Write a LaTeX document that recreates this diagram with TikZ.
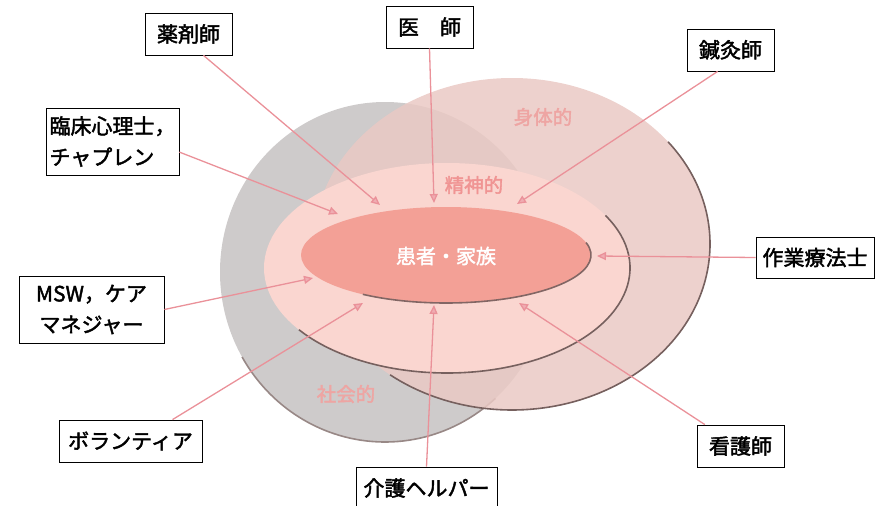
\documentclass[tikz,border=0pt]{standalone}
\usepackage{fontspec}
\newfontfamily\jp{Noto Sans CJK JP}
\newfontfamily\jpb[FakeBold=2]{Noto Sans CJK JP}
\usetikzlibrary{arrows.meta}
\definecolor{grayfill}{RGB}{206,203,203}
\definecolor{pinkbase}{RGB}{234,201,196}
\definecolor{lightpink}{RGB}{250,214,208}
\definecolor{salmon}{RGB}{243,160,150}
\definecolor{edge}{RGB}{118,96,94}
\definecolor{arrowpink}{RGB}{234,145,153}
\definecolor{headpink}{RGB}{240,172,178}
\definecolor{labelpink}{RGB}{238,165,163}
\begin{document}
\begin{tikzpicture}[x=1pt,y=-1pt,
  box/.style={draw=black, line width=0.8pt, fill=white, inner sep=0pt,
    font=\jpb\fontsize{21}{31}\selectfont},
  conn/.style={draw=arrowpink, line width=1.3pt,
    -{Triangle[length=9pt,width=8pt,fill=headpink]}},
  outline/.style={draw=edge, line width=1.6pt},
  inlabel/.style={font=\jpb\fontsize{19.5}{22}\selectfont, text=labelpink, inner sep=0pt}
]
\useasboundingbox (0,0) rectangle (876,506);
% social (gray)
\fill[grayfill] (385,272) ellipse [x radius=165, y radius=170];
\draw[outline, draw=edge!75] ({385+165*cos(48)},{272+170*sin(48)}) arc[start angle=48, end angle=150, x radius=165, y radius=170];
% physical (pink)
\fill[pinkbase, opacity=0.85] (512,244) ellipse [x radius=198, y radius=166];
\draw[outline] ({512+198*cos(-38)},{244+166*sin(-38)}) arc[start angle=-38, end angle=128, x radius=198, y radius=166];
% mental (light pink)
\fill[lightpink] (447,268) ellipse [x radius=183, y radius=105];
\draw[outline] ({447+183*cos(-30)},{268+105*sin(-30)}) arc[start angle=-30, end angle=144, x radius=183, y radius=105];
% patient
\fill[salmon] (446,255) ellipse [x radius=145, y radius=48];
\draw[outline, draw=edge!90!salmon] ({446+145*cos(-15)},{255+48*sin(-15)}) arc[start angle=-15, end angle=125, x radius=145, y radius=48];

\node[inlabel] (shintai) at (543,117) {身体的};
\node[inlabel, text=labelpink!90!red] (seishin) at (474,185) {精神的};
\node[inlabel] (shakai) at (346,394) {社会的};
\node[inlabel, text=white, font=\jpb\fontsize{20}{22}\selectfont] (kanja) at (446,256) {患者・家族};

% boxes
\node[box, minimum width=87pt, minimum height=42pt] (yaku) at (188.5,34) {薬剤師};
\node[box, minimum width=87pt, minimum height=42pt] (ishi) at (429.5,27) {医　師};
\node[box, minimum width=87pt, minimum height=42pt] (shinkyu) at (730.5,50) {鍼灸師};
\node[box, minimum width=133pt, minimum height=67pt, align=left] (rinsho) at (112.5,141.5) {臨床心理士，\\チャプレン};
\node[box, minimum width=118pt, minimum height=41pt] (sagyo) at (815,257.5) {作業療法士};
\node[box, minimum width=145pt, minimum height=67pt, align=center] (msw) at (91.5,309.5) {MSW，ケア\\マネジャー};
\node[box, minimum width=143pt, minimum height=42pt] (vol) at (130.5,441) {ボランティア};
\node[box, minimum width=141pt, minimum height=42pt] (kaigo) at (426.5,488) {介護ヘルパー};
\node[box, minimum width=87pt, minimum height=42pt] (kango) at (740.5,446) {看護師};

% arrow targets
\coordinate (tyaku) at (380,205);
\coordinate (tishi) at (434,203);
\coordinate (tshin) at (517,204);
\coordinate (trin) at (338,214);
\coordinate (tsag) at (597,256);
\coordinate (tmsw) at (313,278);
\coordinate (tvol) at (363,303);
\coordinate (tkai) at (434,305);
\coordinate (tkan) at (519,303);

\draw[conn] (yaku.305) -- (tyaku);
\draw[conn] (ishi.south) -- (tishi);
\draw[conn] (shinkyu.239) -- (tshin);
\draw[conn] (rinsho.351) -- (trin);
\draw[conn] (sagyo.west) -- (tsag);
\draw[conn] (msw.east) -- (tmsw);
\draw[conn] (vol.27) -- (tvol);
\draw[conn] (kaigo.north) -- (tkai);
\draw[conn] (kango.149) -- (tkan);
\end{tikzpicture}
\end{document}
